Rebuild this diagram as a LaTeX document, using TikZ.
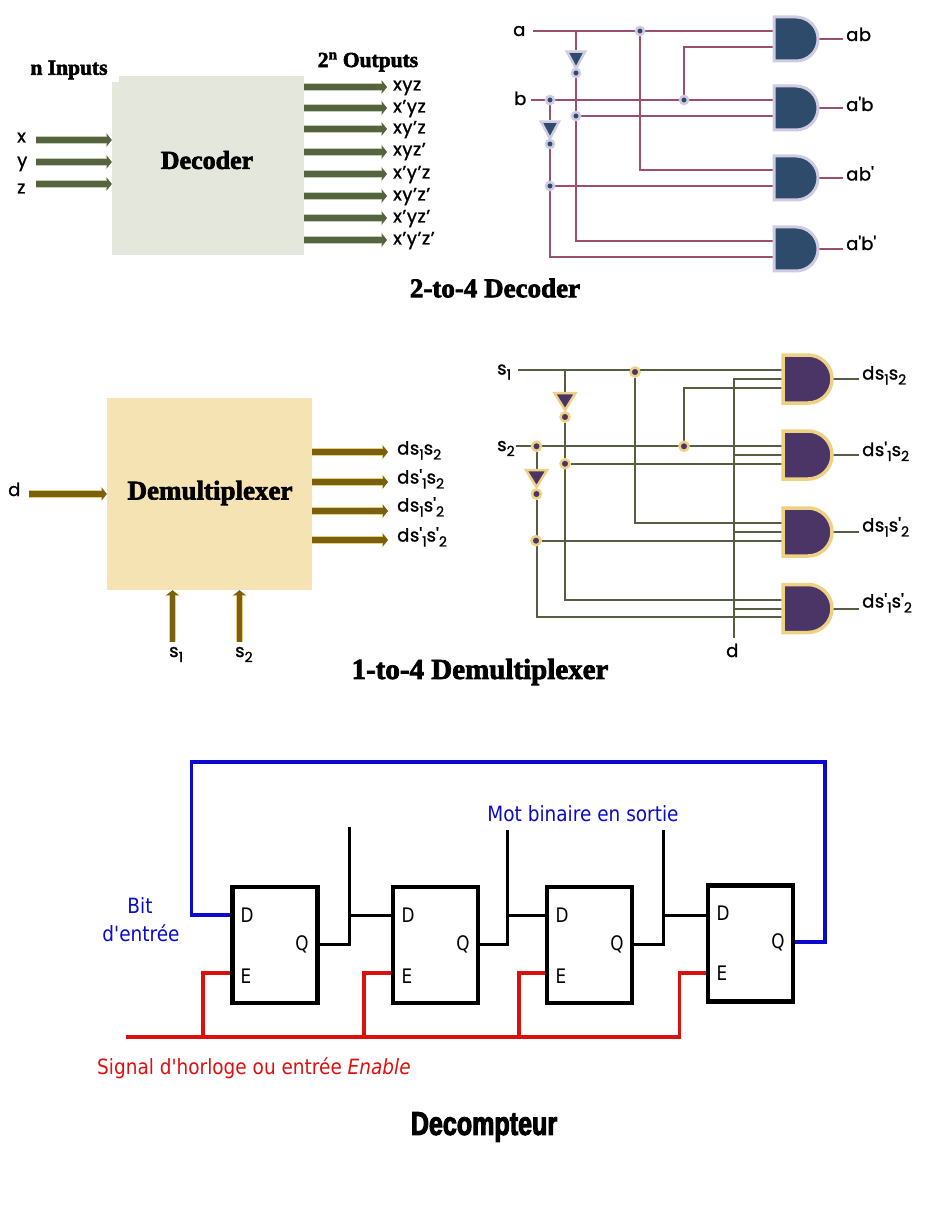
\documentclass[tikz,border=0pt]{standalone}
\usepackage{fontspec}
\usetikzlibrary{positioning,arrows.meta,shapes.geometric,backgrounds}
\setmainfont{Poppins}
\newfontfamily\labfont[FakeBold=1.3,LetterSpace=3]{Poppins}
\newfontfamily\headfont[FakeBold=2.5]{Liberation Serif}
\newfontfamily\notefont[FakeStretch=0.88]{DejaVu Sans}
\newfontfamily\pinfont[FakeStretch=0.84]{DejaVu Sans}
\newfontfamily\countfont[FakeStretch=0.76,FakeBold=3]{Liberation Sans}
\newcommand{\pr}{\textquotesingle}
\newcommand{\low}[1]{\raisebox{-0.28em}{\fontsize{14}{14}\selectfont #1}}
\newcommand{\sone}{s\low{1}}
\newcommand{\stwo}{s\low{2}}
\newcommand{\sonep}{s\pr\low{1}}
\newcommand{\stwop}{s\pr\low{2}}
\definecolor{deckbox}{HTML}{E3E7DC}
\definecolor{demuxbox}{HTML}{F6E3B4}
\definecolor{deckarrow}{HTML}{56633F}
\definecolor{deckhalo}{HTML}{C5CDB5}
\definecolor{demuxarrow}{HTML}{7A5F0E}
\definecolor{demuxhalo}{HTML}{E8CF7E}
\definecolor{deckwire}{HTML}{9C4F6C}
\definecolor{demuxwire}{HTML}{545F42}
\definecolor{deckgate}{HTML}{2F4B6B}
\definecolor{deckring}{HTML}{CFCBE2}
\definecolor{demuxgate}{HTML}{4A3566}
\definecolor{demuxring}{HTML}{EFD184}
\definecolor{bitblue}{HTML}{0A0ACD}
\definecolor{clkred}{HTML}{DC0F0F}

\begin{document}
\begin{tikzpicture}[x=1pt,y=-1pt,auto,
                bigarrow/.style 2 args = {line width=5.5pt, color=#1, -{Triangle[length=5pt,width=12pt]},
                    preaction={draw=#2, line width=7.5pt, -{Triangle[length=6pt,width=15pt]}}},
                deckarr/.style = {bigarrow={deckarrow}{deckhalo}},
                demuxarr/.style = {bigarrow={demuxarrow}{demuxhalo}},
                lab/.style = {font=\fontsize{18}{18}\selectfont\labfont, inner sep=3pt, anchor=west, text height=9pt, text depth=0pt},
                title/.style = {font=\fontsize{27}{27}\selectfont\headfont\bfseries, inner sep=0pt},
                deckand/.pic = {\draw[draw=deckring, fill=deckgate, line width=3pt] (-22,-22) -- (0,-22) arc (-90:90:22) -- (-22,22) -- cycle;
                    \coordinate (-a) at (-22,-8); \coordinate (-b) at (-22,8); \coordinate (-o) at (22,0);},
                demuxand/.pic = {\draw[draw=demuxring, fill=demuxgate, line width=3.5pt] (-25,-24) -- (0,-24) arc (-90:90:24 and 24) -- (-25,24) -- cycle;
                    \coordinate (-a) at (-25,-8.7); \coordinate (-b) at (-25,0); \coordinate (-c) at (-25,8.7); \coordinate (-o) at (24,0);},
                deckinv/.style = {isosceles triangle, shape border rotate=270, isosceles triangle stretches, draw=deckring, fill=deckgate,
                    line width=2.5pt, minimum width=18pt, minimum height=17pt, inner sep=0pt},
                demuxinv/.style = {isosceles triangle, shape border rotate=270, isosceles triangle stretches, draw=demuxring, fill=demuxgate,
                    line width=2.5pt, minimum width=21pt, minimum height=17pt, inner sep=0pt},
                deckdot/.style = {circle, draw=deckring, fill=deckgate, line width=2.5pt, minimum size=8pt, inner sep=0pt},
                demuxdot/.style = {circle, draw=demuxring, fill=demuxgate, line width=2.5pt, minimum size=9pt, inner sep=0pt},
                deckline/.style = {color=deckwire, line width=2pt},
                demuxline/.style = {color=demuxwire, line width=2pt},
                ffbox/.style = {draw, line width=4.5pt, minimum width=85pt, minimum height=116pt, inner sep=0pt},
                ffpin/.style = {font=\fontsize{20}{20}\selectfont\pinfont, inner sep=0pt},
                note/.style = {font=\fontsize{21}{21}\selectfont\notefont, inner sep=0pt}]
                \useasboundingbox (0,0) rectangle (928,1214);

                % block Decoder
                \fill[deckbox] (119,76) rectangle (304,90);
                \node[fill=deckbox, minimum width=192pt, minimum height=173pt, inner sep=0pt] (decbox) at (208,168.5) {};
                \node[font=\fontsize{26}{26}\selectfont\headfont\bfseries, inner sep=0pt] (decname) at (207,160) {Decoder};
                \node[font=\fontsize{21.5}{21.5}\selectfont\headfont\bfseries, inner sep=0pt] (ninputs) at (69,70) {n Inputs};
                \node[font=\fontsize{21.5}{21.5}\selectfont\headfont\bfseries, inner sep=0pt] (noutputs) at (368,62) {2\textsuperscript{n} Outputs};
                \node[lab] (x) at (14,138) {x};
                \node[lab] (y) at (14,162) {y};
                \node[lab] (z) at (14,189) {z};
                \coordinate (xs) at (36,140);
                \coordinate (ys) at (36,162);
                \coordinate (zs) at (36,184);
                \draw[deckarr] (xs) -- (xs -| decbox.west);
                \draw[deckarr] (ys) -- (ys -| decbox.west);
                \draw[deckarr] (zs) -- (zs -| decbox.west);
                \node[lab] (o1) at (390,86) {xyz};
                \node[lab] (o2) at (390,108) {x’yz};
                \node[lab] (o3) at (390,129) {xy’z};
                \node[lab] (o4) at (390,151) {xyz’};
                \node[lab] (o5) at (390,174) {x’y’z};
                \node[lab] (o6) at (390,196) {xy’z’};
                \node[lab] (o7) at (390,218) {x’yz’};
                \node[lab] (o8) at (390,240) {x’y’z’};
                \coordinate (e1) at (387,87);
                \coordinate (e2) at (387,108);
                \coordinate (e3) at (387,129);
                \coordinate (e4) at (387,152);
                \coordinate (e5) at (387,174);
                \coordinate (e6) at (387,196);
                \coordinate (e7) at (387,218);
                \coordinate (e8) at (387,240);
                \draw[deckarr] (e1 -| decbox.east) -- (e1);
                \draw[deckarr] (e2 -| decbox.east) -- (e2);
                \draw[deckarr] (e3 -| decbox.east) -- (e3);
                \draw[deckarr] (e4 -| decbox.east) -- (e4);
                \draw[deckarr] (e5 -| decbox.east) -- (e5);
                \draw[deckarr] (e6 -| decbox.east) -- (e6);
                \draw[deckarr] (e7 -| decbox.east) -- (e7);
                \draw[deckarr] (e8 -| decbox.east) -- (e8);

                % circuit 2-to-4
                \pic (g1) at (796,39) {deckand};
                \pic (g2) at (796,108) {deckand};
                \pic (g3) at (796,178) {deckand};
                \pic (g4) at (796,249) {deckand};
                \node[lab] (oab) at (843,36.5) {ab};
                \node[lab] (oanb) at (843,106.5) {a\pr b};
                \node[lab] (oabn) at (843,176) {ab\pr};
                \node[lab] (oanbn) at (843,245.5) {a\pr b\pr};
                \node[lab] (a) at (510,31.5) {a};
                \node[lab] (b) at (511,100.5) {b};
                \coordinate (as) at (533,31);
                \coordinate (bs) at (531,100);
                \coordinate (ab1) at (576,31);
                \node[deckinv] (inva) at (576,57) {};
                \node[deckdot] (da) at (576,73) {};
                \node[deckdot] (da2) at (576,116) {};
                \node[deckdot] (dm) at (640,31) {};
                \node[deckdot] (db) at (550,100) {};
                \node[deckinv] (invb) at (550,127) {};
                \node[deckdot] (dbn) at (550,144) {};
                \node[deckdot] (db2) at (550,186) {};
                \node[deckdot] (dk) at (684,100) {};
                \begin{scope}[on background layer]
                \path[deckline]
                    (as) edge (g1-a)
                    (ab1) edge (inva.north)
                    (bs) edge (g2-a)
                    (db) edge (invb.north)
                    (da2) edge (g2-b)
                    (db2) edge (g3-b)
                    (g1-o) edge (g1-o -| oab.west)
                    (g2-o) edge (g2-o -| oanb.west)
                    (g3-o) edge (g3-o -| oabn.west)
                    (g4-o) edge (g4-o -| oanbn.west);
                \draw[deckline] (dk) |- (g1-b);
                \draw[deckline] (dm) |- (g3-a);
                \draw[deckline] (da) |- (g4-a);
                \draw[deckline] (dbn) |- (g4-b);
                \end{scope}
                \node[title] (dectitle) at (495,288) {2-to-4 Decoder};

                % block Demultiplexer
                \node[fill=demuxbox, minimum width=205pt, minimum height=192pt, inner sep=0pt] (dmxbox) at (209.5,494) {};
                \node[font=\fontsize{27}{27}\selectfont\headfont\bfseries, inner sep=0pt] (dmxname) at (210,493) {Demultiplexer};
                \node[lab] (din) at (5,491.5) {d};
                \coordinate (ds) at (29,494);
                \draw[demuxarr] (ds) -- (ds -| dmxbox.west);
                \node[lab] (p1) at (394,450) {d\sone\stwo};
                \node[lab] (p2) at (394,479) {d\sonep\stwo};
                \node[lab] (p3) at (394,507) {d\sone\stwop};
                \node[lab] (p4) at (394,537) {d\sonep\stwop};
                \coordinate (f1) at (388,452);
                \coordinate (f2) at (388,482);
                \coordinate (f3) at (388,511);
                \coordinate (f4) at (388,540);
                \draw[demuxarr] (f1 -| dmxbox.east) -- (f1);
                \draw[demuxarr] (f2 -| dmxbox.east) -- (f2);
                \draw[demuxarr] (f3 -| dmxbox.east) -- (f3);
                \draw[demuxarr] (f4 -| dmxbox.east) -- (f4);
                \node[lab] (sl1) at (166,652.5) {\sone};
                \node[lab] (sl2) at (232,652.5) {\stwo};
                \coordinate (u1) at (172.5,642);
                \coordinate (u2) at (239.5,642);
                \draw[demuxarr] (u1) -- (u1 |- dmxbox.south);
                \draw[demuxarr] (u2) -- (u2 |- dmxbox.south);

                % circuit 1-to-4
                \pic (h1) at (808,379) {demuxand};
                \pic (h2) at (808,455) {demuxand};
                \pic (h3) at (808,532) {demuxand};
                \pic (h4) at (808,608.5) {demuxand};
                \node[lab] (ods) at (859,375) {d\sone\stwo};
                \node[lab] (odns) at (859,451.5) {d\sonep\stwo};
                \node[lab] (odsn) at (859,527) {d\sone\stwop};
                \node[lab] (odnsn) at (859,603) {d\sonep\stwop};
                \node[lab] (s1) at (494,370) {\sone};
                \node[lab] (s2) at (494,446.5) {\stwo};
                \node[lab] (dd) at (723,652.5) {d};
                \coordinate (ss1) at (518,370.3);
                \coordinate (ss2) at (516,446.3);
                \coordinate (sb1) at (565,370);
                \coordinate (dtop) at (734,378);
                \coordinate (dbot) at (734,638);
                \node[demuxinv] (invs) at (565,399) {};
                \node[demuxdot] (ds1) at (565,417) {};
                \node[demuxdot] (ds2) at (565,463.7) {};
                \node[demuxdot] (dn) at (635,372) {};
                \node[demuxdot] (dt) at (536.5,446.3) {};
                \node[demuxinv] (invt) at (536.5,476) {};
                \node[demuxdot] (dt1) at (536.5,494) {};
                \node[demuxdot] (dt2) at (536,540.7) {};
                \node[demuxdot] (dq) at (684,446.3) {};
                \begin{scope}[on background layer]
                \path[demuxline]
                    (ss1) edge (h1-a)
                    (sb1) edge (invs.north)
                    (ss2) edge (h2-a)
                    (dt) edge (invt.north)
                    (ds2) edge (h2-c)
                    (dt2) edge (h3-c)
                    (dtop) edge (dbot)
                    (dtop |- h1-b) edge (h1-b)
                    (dtop |- h2-b) edge (h2-b)
                    (dtop |- h3-b) edge (h3-b)
                    (dtop |- h4-b) edge (h4-b)
                    (h1-o) edge (h1-o -| ods.west)
                    (h2-o) edge (h2-o -| odns.west)
                    (h3-o) edge (h3-o -| odsn.west)
                    (h4-o) edge (h4-o -| odnsn.west);
                \draw[demuxline] (dq) |- (h1-c);
                \draw[demuxline] (dn) |- (h3-a);
                \draw[demuxline] (ds1) |- (h4-a);
                \draw[demuxline] (dt1) |- (h4-c);
                \end{scope}
                \node[font=\fontsize{29}{29}\selectfont\headfont\bfseries, inner sep=0pt] (dmxtitle) at (480,672) {1-to-4 Demultiplexer};

                % Decompteur
                \node[ffbox] (ff1) at (275,945) {};
                \node[ffbox] (ff2) at (435.5,945) {};
                \node[ffbox] (ff3) at (589.5,945) {};
                \node[ffbox] (ff4) at (750.5,943.5) {};
                \node[ffpin] (d1) at (247,915) {D};
                \node[ffpin] (q1) at (302,944) {Q};
                \node[ffpin] (n1) at (246,976) {E};
                \node[ffpin] (d2) at (408,915) {D};
                \node[ffpin] (q2) at (463,944) {Q};
                \node[ffpin] (n2) at (407,976) {E};
                \node[ffpin] (d3) at (562,915) {D};
                \node[ffpin] (q3) at (617,944) {Q};
                \node[ffpin] (n3) at (561,976) {E};
                \node[ffpin] (d4) at (723,913) {D};
                \node[ffpin] (q4) at (778,942) {Q};
                \node[ffpin] (n4) at (722,973) {E};
                \coordinate (t1) at (349,827);
                \coordinate (t2) at (507,830);
                \coordinate (t3) at (663,830);
                \coordinate (rail) at (0,973);
                \draw[line width=3pt] (q1 -| ff1.east) -| (t1);
                \draw[line width=3pt] (q2 -| ff2.east) -| (t2);
                \draw[line width=3pt] (q3 -| ff3.east) -| (t3);
                \draw[line width=3pt] (t1 |- d2) -- (d2 -| ff2.west);
                \draw[line width=3pt] (t2 |- d3) -- (d3 -| ff3.west);
                \draw[line width=3pt] (t3 |- d2) -- (d2 -| ff4.west);
                \coordinate (la) at (191.5,762);
                \coordinate (lb) at (825,762);
                \draw[color=bitblue, line width=3.3pt] (d1 -| ff1.west) -| (la) -- (lb) |- (q4 -| ff4.east);
                \coordinate (ca) at (126,1037);
                \coordinate (cb) at (679.5,1037);
                \coordinate (c1) at (203,1037);
                \coordinate (c2) at (364,1037);
                \coordinate (c3) at (519,1037);
                \draw[color=clkred, line width=3.3pt] (ca) -- (cb) |- (rail -| ff4.west);
                \draw[color=clkred, line width=3.3pt] (c1) |- (rail -| ff1.west);
                \draw[color=clkred, line width=3.3pt] (c2) |- (rail -| ff2.west);
                \draw[color=clkred, line width=3.3pt] (c3) |- (rail -| ff3.west);
                \node[note, text=bitblue] (bit) at (140,906) {Bit};
                \node[note, text=bitblue] (entree) at (141,933) {d'entrée};
                \node[note, text=bitblue] (mot) at (583,814) {Mot binaire en sortie};
                \node[note, text=clkred, anchor=west] (sig) at (97,1068) {Signal d'horloge ou entrée \textit{Enable}};
                \node[font=\fontsize{33}{33}\selectfont\countfont\bfseries, inner sep=0pt] (dect) at (484,1127) {Decompteur};
\end{tikzpicture}
\end{document}
